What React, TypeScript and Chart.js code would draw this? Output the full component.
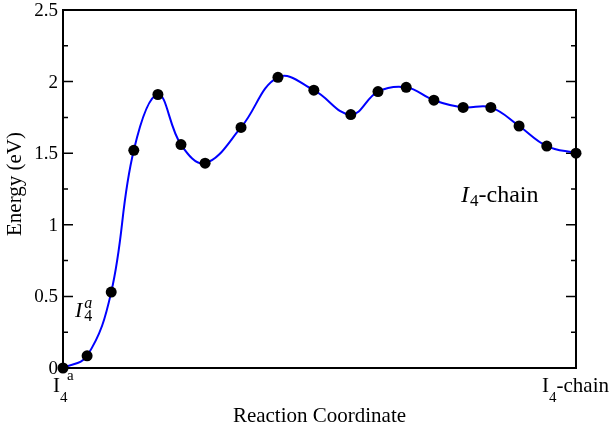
import { useEffect, useRef } from 'react';
import { Chart, registerables } from 'chart.js';

Chart.register(...registerables);

// Reaction coordinate (normalized) of each image along the path
const reactionCoord = [
  0, 0.047, 0.094, 0.138, 0.185, 0.230, 0.277, 0.347, 0.419, 0.489,
  0.561, 0.614, 0.669, 0.723, 0.780, 0.834, 0.889, 0.943, 1.0,
];
// Energy (eV) of each image
const energies = [
  0, 0.085, 0.53, 1.52, 1.91, 1.56, 1.43, 1.68, 2.03, 1.94,
  1.77, 1.93, 1.96, 1.87, 1.82, 1.82, 1.69, 1.55, 1.5,
];
const yMajorTicks = [0, 0.5, 1, 1.5, 2, 2.5];
const yTickLabels = ['0', '0.5', '1', '1.5', '2', '2.5'];
const yMinorTicks = [0.25, 0.75, 1.25, 1.75, 2.25];
const xEndpoints = [0, 1];
const xAxisTitle = 'Reaction Coordinate';
const yAxisTitle = 'Energy (eV)';

const SERIF = '"Liberation Serif", "Times New Roman", serif';

const framePlugin = {
  id: 'frame',
  beforeDatasetsDraw(chart: any) {
    const { ctx, chartArea: a, scales } = chart;
    const ys = scales.y;
    ctx.save();
    ctx.strokeStyle = '#000';
    ctx.lineWidth = 2;
    ctx.strokeRect(a.left, a.top, a.right - a.left, a.bottom - a.top);
    ctx.lineWidth = 1.5;
    ctx.beginPath();
    for (const v of yMajorTicks) {
      const p = ys.getPixelForValue(v);
      ctx.moveTo(a.left, p);
      ctx.lineTo(a.left + 10, p);
      ctx.moveTo(a.right, p);
      ctx.lineTo(a.right - 10, p);
    }
    for (const v of yMinorTicks) {
      const p = ys.getPixelForValue(v);
      ctx.moveTo(a.left, p);
      ctx.lineTo(a.left + 5, p);
      ctx.moveTo(a.right, p);
      ctx.lineTo(a.right - 5, p);
    }
    ctx.stroke();
    ctx.restore();
  },
  afterDraw(chart: any) {
    const { ctx, chartArea: a, scales } = chart;
    const xs = scales.x;
    const ys = scales.y;
    ctx.save();
    ctx.fillStyle = '#000';

    // y tick labels
    ctx.font = `19px ${SERIF}`;
    ctx.textAlign = 'right';
    ctx.textBaseline = 'middle';
    yMajorTicks.forEach((v, i) => {
      ctx.fillText(yTickLabels[i], a.left - 5, ys.getPixelForValue(v) + 1);
    });

    // y title
    ctx.save();
    ctx.translate(15, 184);
    ctx.rotate(-Math.PI / 2);
    ctx.textAlign = 'center';
    ctx.textBaseline = 'middle';
    ctx.font = `21px ${SERIF}`;
    ctx.fillText(yAxisTitle, 0, 0);
    ctx.restore();

    // x title
    ctx.textAlign = 'center';
    ctx.textBaseline = 'alphabetic';
    ctx.font = `21px ${SERIF}`;
    ctx.fillText(xAxisTitle, (a.left + a.right) / 2, 422);

    // x endpoint labels
    ctx.textAlign = 'left';
    const base = 392;
    // left: I_4^a
    {
      const px = xs.getPixelForValue(xEndpoints[0]);
      ctx.font = `21px ${SERIF}`;
      const wI = ctx.measureText('I').width;
      let x = px - 10;
      ctx.fillText('I', x, base);
      x += wI;
      ctx.font = `15px ${SERIF}`;
      ctx.fillText('4', x, base + 10);
      ctx.fillText('a', x + 7, base - 12);
    }
    // right: I_4-chain
    {
      const px = xs.getPixelForValue(xEndpoints[1]);
      let x = px - 34;
      ctx.font = `21px ${SERIF}`;
      ctx.fillText('I', x, base);
      x += ctx.measureText('I').width;
      ctx.font = `15px ${SERIF}`;
      ctx.fillText('4', x, base + 10);
      x += ctx.measureText('4').width;
      ctx.font = `21px ${SERIF}`;
      ctx.fillText('-chain', x, base);
    }

    // in-plot annotation: I_4^a (math italic)
    {
      let x = 75;
      const b = 317;
      ctx.font = `italic 22px ${SERIF}`;
      ctx.fillText('I', x, b);
      x += ctx.measureText('I').width + 2;
      ctx.font = `italic 16px ${SERIF}`;
      ctx.fillText('a', x, b - 9);
      ctx.font = `16px ${SERIF}`;
      ctx.fillText('4', x, b + 4);
    }
    // in-plot annotation: I_4-chain
    {
      let x = 461;
      const b = 202;
      ctx.font = `italic 24px ${SERIF}`;
      ctx.fillText('I', x, b);
      x += ctx.measureText('I').width + 1;
      ctx.font = `17px ${SERIF}`;
      ctx.fillText('4', x, b + 4);
      x += ctx.measureText('4').width;
      ctx.font = `24px ${SERIF}`;
      ctx.fillText('-chain', x, b);
    }
    ctx.restore();
  },
};

export default function App() {
  const canvasRef = useRef<HTMLCanvasElement | null>(null);

  useEffect(() => {
    document.body.style.margin = '0';
    const canvas = canvasRef.current;
    if (!canvas) return;
    const pts = reactionCoord.map((x, i) => ({ x, y: energies[i] }));
    const chart = new Chart(canvas, {
      type: 'line',
      data: {
        datasets: [
          {
            label: 'images',
            data: pts,
            showLine: false,
            pointRadius: 5.5,
            pointHoverRadius: 5.5,
            pointBackgroundColor: '#000',
            pointBorderColor: '#000',
            pointBorderWidth: 0,
            clip: false as any,
          },
          {
            label: 'path',
            data: pts,
            borderColor: '#0000ff',
            borderWidth: 2,
            pointRadius: 0,
            tension: 0.4,
            fill: false,
          },
        ],
      },
      options: {
        responsive: false,
        animation: false,
        layout: { padding: { left: 63, right: 34, top: 10, bottom: 62 } },
        plugins: {
          legend: { display: false },
          tooltip: { enabled: false },
          title: { display: false },
        },
        scales: {
          x: { type: 'linear', min: 0, max: 1, display: false },
          y: { type: 'linear', min: 0, max: 2.5, display: false },
        },
      },
      plugins: [framePlugin],
    });
    return () => chart.destroy();
  }, []);

  return (
    <div style={{ width: 610, height: 430, background: '#fff' }}>
      <canvas ref={canvasRef} width={610} height={430} />
    </div>
  );
}
